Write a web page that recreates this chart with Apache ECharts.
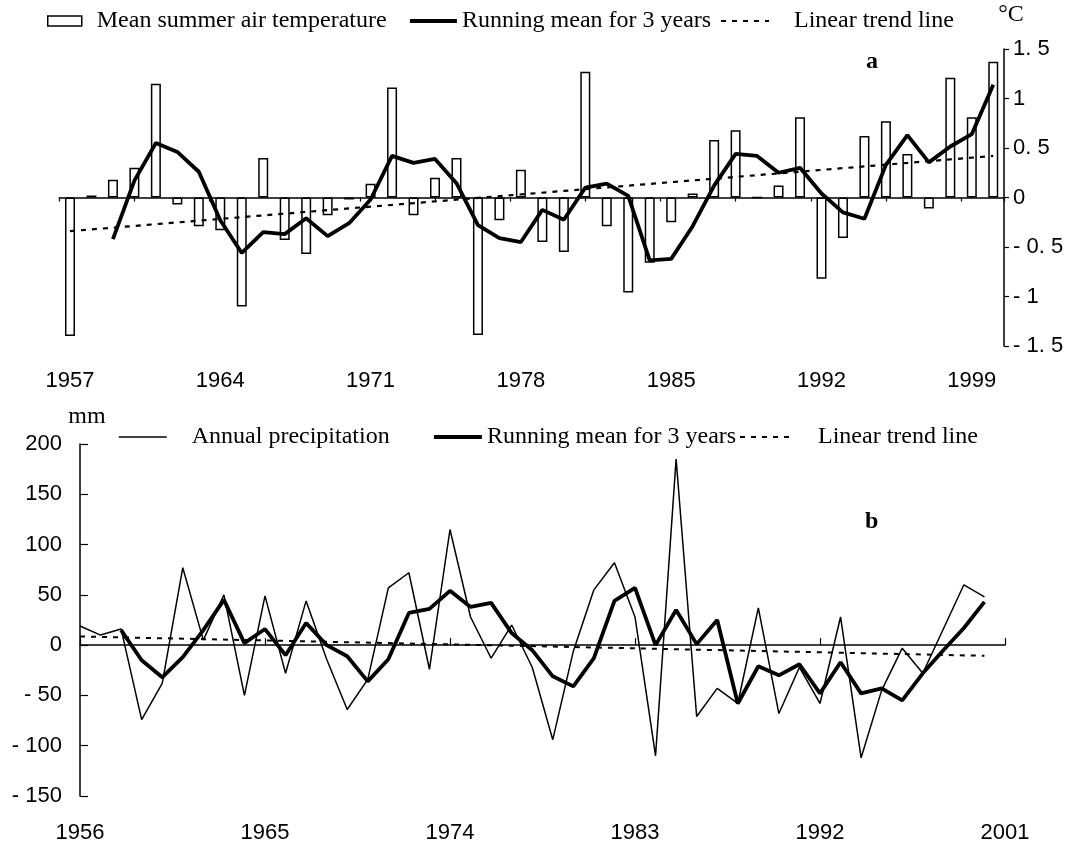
<!DOCTYPE html>
<html><head><meta charset="utf-8">
<script src="https://cdn.jsdelivr.net/npm/echarts@6/dist/echarts.min.js"></script>
<style>html,body{margin:0;padding:0;background:#fff}#c{width:1070px;height:845px}</style>
</head><body><div id="c"></div>
<script>
// ---- Panel a: mean summer air temperature anomaly (°C) ----
const yearsA = ['1957','1958','1959','1960','1961','1962','1963','1964','1965','1966','1967','1968','1969','1970','1971','1972','1973','1974','1975','1976','1977','1978','1979','1980','1981','1982','1983','1984','1985','1986','1987','1988','1989','1990','1991','1992','1993','1994','1995','1996','1997','1998','1999','2000'];
const tempA = [-1.40,0.02,0.18,0.30,1.15,-0.07,-0.29,-0.33,-1.10,0.40,-0.43,-0.57,-0.18,-0.02,0.14,1.11,-0.18,0.20,0.40,-1.39,-0.23,0.28,-0.45,-0.55,1.27,-0.29,-0.96,-0.66,-0.25,0.04,0.58,0.68,0.00,0.12,0.81,-0.82,-0.41,0.62,0.77,0.44,-0.11,1.21,0.81,1.37];
const runA = [null,null,-0.42,0.17,0.55,0.46,0.26,-0.23,-0.56,-0.35,-0.37,-0.21,-0.39,-0.26,-0.02,0.42,0.35,0.39,0.145,-0.28,-0.41,-0.45,-0.125,-0.225,0.10,0.14,0.017,-0.635,-0.62,-0.29,0.12,0.44,0.42,0.25,0.30,0.04,-0.15,-0.215,0.33,0.63,0.355,0.515,0.64,1.14];
const trendAYears = ['1957','2000'];
const trendA = [-0.34,0.42];
const yTicksA = [-1.5,-1,-0.5,0,0.5,1,1.5];
const yLabelsA = ['- 1. 5','- 1','- 0. 5','0','0. 5','1','1. 5'];

// ---- Panel b: annual precipitation anomaly (mm) ----
const yearsB = ['1956','1957','1958','1959','1960','1961','1962','1963','1964','1965','1966','1967','1968','1969','1970','1971','1972','1973','1974','1975','1976','1977','1978','1979','1980','1981','1982','1983','1984','1985','1986','1987','1988','1989','1990','1991','1992','1993','1994','1995','1996','1997','1998','1999','2000','2001'];
const precipB = [19,10,16,-74,-38,77,5,50,-50,49,-28,44,-14,-64,-34,57,72,-24,115,28,-13,20,-22,-94,-6,55,82,28,-110,185,-71,-43,-58,37,-68,-22,-58,28,-112,-45,-3,-28,16,60,48];
const runB = [null,null,15,-15,-32,-12,15,45,2,16,-10,22,0,-11,-36,-14,32,36,54,38,42,12,-5,-31,-41,-13,44,57,0,35,1,25,-58,-21,-30,-19,-48,-17,-48,-43,-55,-28,-5,17,43];
const trendBYears = ['1956','2000'];
const trendB = [8.6,-10.6];
const yTicksB = [-150,-100,-50,0,50,100,150,200];
const yLabelsB = ['- 150','- 100','- 50','0','50','100','150','200'];

const legendNames = {
  tempA: 'Mean summer air temperature',
  runA: 'Running mean for 3 years',
  trendA: 'Linear trend line',
  precipB: 'Annual precipitation',
  runB: 'Running mean for 3 years',
  trendB: 'Linear trend line'
};

function lab(ticks, labels) {
  return function (v) {
    for (let i = 0; i < ticks.length; i++) if (Math.abs(ticks[i] - v) < 1e-6) return labels[i];
    return '';
  };
}

const SERIF = '"Liberation Serif", "Times New Roman", serif';
const SANS = '"Liberation Sans", Arial, sans-serif';
const BLK = '#000';
const FS = 24;
const axLine = { color: BLK, width: 1.5 };

function txt(padLeft) {
  return { fontFamily: SERIF, fontSize: FS, color: BLK, lineHeight: 24, padding: [0, 0, 0, padLeft] };
}
function legendItem(key, left, top, w, extra) {
  return Object.assign({
    data: [key], left: left, top: top, padding: 0, itemWidth: w, itemHeight: 10,
    selectedMode: false, formatter: n => legendNames[n],
    itemStyle: { opacity: 0 },
    textStyle: txt(0)
  }, extra || {});
}

const chart = echarts.init(document.getElementById('c'));
chart.setOption({
  animation: false,
  backgroundColor: '#fff',
  title: [
    { text: 'a', left: 866, top: 50, padding: 0, textStyle: { fontFamily: SERIF, fontWeight: 'bold', fontSize: 24, color: BLK } },
    { text: 'b', left: 865, top: 510, padding: 0, textStyle: { fontFamily: SERIF, fontWeight: 'bold', fontSize: 24, color: BLK } }
  ],
  legend: [
    legendItem('tempA', 47, 9, 34, { icon: 'rect', itemStyle: { color: '#fff', borderColor: BLK, borderWidth: 1.5 }, textStyle: txt(10) }),
    legendItem('runA', 408, 9, 47, { lineStyle: { width: 3.8, color: BLK } }),
    legendItem('trendA', 720, 9, 48, { lineStyle: { width: 2, color: BLK }, textStyle: txt(20) }),
    legendItem('precipB', 118, 425, 48, { lineStyle: { width: 1.5, color: BLK }, textStyle: txt(20) }),
    legendItem('runB', 432, 425, 48, { lineStyle: { width: 3.8, color: BLK } }),
    legendItem('trendB', 739, 425, 54, { lineStyle: { width: 2, color: BLK }, textStyle: txt(19) })
  ],
  grid: [
    { left: 59.25, right: 66, top: 49, height: 297 },
    { left: 80, right: 65, top: 444, height: 352 }
  ],
  xAxis: [
    { type: 'category', gridIndex: 0, data: yearsA, boundaryGap: true,
      axisLine: { show: true, onZero: true, onZeroAxisIndex: 0, lineStyle: axLine },
      axisTick: { show: false }, axisLabel: { show: false }, splitLine: { show: false } },
    { type: 'category', gridIndex: 0, data: yearsA, boundaryGap: true, position: 'bottom',
      axisLine: { show: false, onZero: false }, axisTick: { show: false },
      axisLabel: { interval: 6, margin: 24, fontFamily: SANS, fontSize: 22, color: BLK }, splitLine: { show: false } },
    { type: 'value', gridIndex: 0, min: 0, max: 44, interval: 3.5,
      axisLine: { show: false, onZero: true, onZeroAxisIndex: 0 },
      axisTick: { show: true, inside: true, length: 4, lineStyle: { color: BLK, width: 1.2 } },
      axisLabel: { show: false }, splitLine: { show: false } },
    { type: 'category', gridIndex: 1, data: yearsB, boundaryGap: false,
      axisLine: { show: true, onZero: true, onZeroAxisIndex: 1, lineStyle: axLine },
      axisTick: { show: true, inside: true, length: 7, interval: 8, lineStyle: { color: BLK, width: 1.2 } },
      axisLabel: { show: false }, splitLine: { show: false } },
    { type: 'category', gridIndex: 1, data: yearsB, boundaryGap: false, position: 'bottom',
      axisLine: { show: false, onZero: false }, axisTick: { show: false },
      axisLabel: { interval: 8, margin: 26, fontFamily: SANS, fontSize: 22, color: BLK }, splitLine: { show: false } }
  ],
  yAxis: [
    { type: 'value', gridIndex: 0, position: 'right', min: -1.5, max: 1.5, interval: 0.5,
      axisLine: { show: true, onZero: false, lineStyle: axLine },
      axisTick: { show: true, inside: false, length: 5, lineStyle: { color: BLK, width: 1.2 } },
      axisLabel: { margin: 9, fontFamily: SANS, fontSize: 22, color: BLK, formatter: lab(yTicksA, yLabelsA) },
      splitLine: { show: false },
      name: '°C', nameLocation: 'end', nameGap: 22,
      nameTextStyle: { fontFamily: SERIF, fontSize: FS, color: BLK, padding: [0, 0, 0, 14] } },
    { type: 'value', gridIndex: 1, position: 'left', min: -150, max: 200, interval: 50,
      axisLine: { show: true, onZero: false, lineStyle: axLine },
      axisTick: { show: true, inside: true, length: 8, lineStyle: { color: BLK, width: 1.2 } },
      axisLabel: { margin: 18, fontFamily: SANS, fontSize: 22, color: BLK, formatter: lab(yTicksB, yLabelsB) },
      splitLine: { show: false },
      name: 'mm', nameLocation: 'end', nameGap: 15,
      nameTextStyle: { fontFamily: SERIF, fontSize: FS, color: BLK, padding: [0, 0, 0, 14] } }
  ],
  series: [
    { name: 'tempA', type: 'bar', xAxisIndex: 0, yAxisIndex: 0, data: tempA, barWidth: 10,
      itemStyle: { color: '#fff', borderColor: BLK, borderWidth: 1.5 }, z: 2 },
    { name: 'trendA', type: 'line', xAxisIndex: 0, yAxisIndex: 0,
      data: trendAYears.map((y, i) => [y, trendA[i]]), symbol: 'none',
      itemStyle: { color: BLK }, lineStyle: { color: BLK, width: 2.2, type: [5, 6] }, z: 3 },
    { name: 'runA', type: 'line', xAxisIndex: 0, yAxisIndex: 0, data: runA, symbol: 'none',
      itemStyle: { color: BLK }, lineStyle: { color: BLK, width: 3.8 }, z: 4 },
    { name: 'precipB', type: 'line', xAxisIndex: 3, yAxisIndex: 1, data: precipB, symbol: 'none',
      itemStyle: { color: BLK }, lineStyle: { color: BLK, width: 1.5 }, z: 3 },
    { name: 'trendB', type: 'line', xAxisIndex: 3, yAxisIndex: 1,
      data: trendBYears.map((y, i) => [y, trendB[i]]), symbol: 'none',
      itemStyle: { color: BLK }, lineStyle: { color: BLK, width: 2, type: [5, 6] }, z: 3 },
    { name: 'runB', type: 'line', xAxisIndex: 3, yAxisIndex: 1, data: runB, symbol: 'none',
      itemStyle: { color: BLK }, lineStyle: { color: BLK, width: 3.8 }, z: 4 }
  ]
});
</script>
</body></html>
